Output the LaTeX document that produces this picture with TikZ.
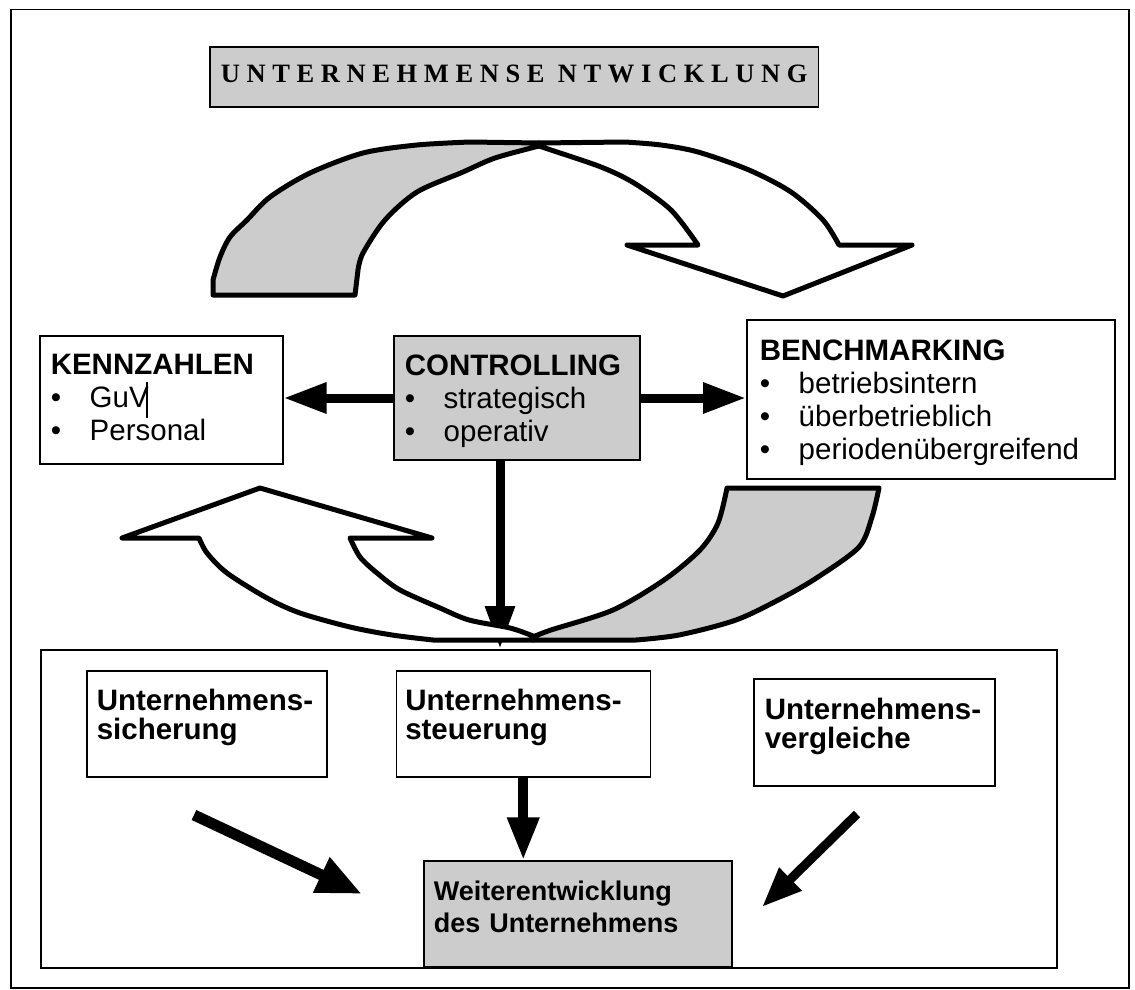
\documentclass[tikz,border=0pt]{standalone}
\usepackage{fontspec}
\setmainfont{Liberation Sans}
\newfontfamily\titlefont{Liberation Serif}
\usepackage{tikz}
\usetikzlibrary{arrows.meta,calc,positioning}
\definecolor{panelgray}{HTML}{CCCCCC}
\newcommand{\midfont}{\fontsize{29.5}{33}\selectfont}
\newcommand{\lowfont}{\fontsize{29.5}{29}\selectfont}
\newcommand{\resfont}{\fontsize{27}{32}\selectfont}
\newcommand{\bitem}{\makebox[39pt][l]{\textbullet}}
\tikzset{
  box/.style={draw, line width=1.5pt, fill=white, anchor=base west, inner ysep=0pt, align=left, font=\midfont},
  gbox/.style={box, fill=panelgray},
  fatarrow/.style={-{Triangle[length=43pt,width=29pt]}, line width=9pt},
  band/.style={draw, line width=5pt, line join=round, line cap=round},
}
\begin{document}
\begin{tikzpicture}[x=1pt, y=-1pt]
    \useasboundingbox (0,0) rectangle (1135,990);
    \node[draw, line width=1.5pt, anchor=north west, inner sep=0pt, minimum width=1118pt, minimum height=978pt] (page) at (10,9) {};

    % title
    \node[gbox, font=\titlefont\fontsize{26.5}{30}\selectfont\bfseries, inner xsep=11pt, text height=35pt, text depth=25pt] (title) at (209,82)
    {U N T E R N E H M E N S E\ \ N T W I C K L U N G};

    % upper turning arrow
    \filldraw[band, fill=panelgray] (213,295) -- plot[smooth] coordinates {(213,280) (220,257) (230,237) (247,220) (270,197) (310,173) (363,153) (417,145) (470,142)}
      -- (539,143) -- plot[smooth] coordinates {(539,146) (495,158) (463,172) (417,192) (385,220) (363,253) (358,270)} -- (355,295) -- cycle;
    \filldraw[band, fill=white] (539,143) -- (625,142) -- plot[smooth] coordinates {(625,142) (661,145) (698,152) (749,170) (791,192) (823,220) (839,245)}
      -- (912,245) -- (783,296) -- (627,245) -- (698,245) -- plot[smooth] coordinates {(698,245) (671,210) (634,183) (601,167) (551,150) (539,146)} -- cycle;

    % middle row
    \node[box, text width=221pt, inner xsep=11pt, text height=38pt, text depth=90pt] (kenn) at (39,374)
    {\textbf{KENNZAHLEN}\\ \bitem GuV\\ \bitem Personal};
    \node[gbox, text width=224pt, inner xsep=11pt, text height=39pt, text depth=85pt] (ctrl) at (393,375)
    {\textbf{CONTROLLING}\\ \bitem strategisch\\ \bitem operativ};
    \node[box, text width=342pt, inner xsep=13pt, text height=40pt, text depth=119pt] (bench) at (746,360)
    {\textbf{BENCHMARKING}\\ \bitem betriebsintern\\ \bitem überbetrieblich\\ \bitem periodenübergreifend};
    \draw[line width=2.5pt] (147,382) -- (147,418);

    \draw[fatarrow] (ctrl.west) -- (ctrl.west -| kenn.east);
    \draw[fatarrow] (ctrl.east) -- (ctrl.east -| bench.west);

    \coordinate (hit) at (500,649);
    \draw[fatarrow, -{Triangle[length=43pt,width=28pt]}] (ctrl.south -| hit) -- (hit);

    % lower turning arrow
    \filldraw[band, fill=white] (199,538) -- (122,538) -- (260,488) -- (432,538) -- (350,538)
      -- plot[smooth] coordinates {(350,538) (360,557) (377,573) (400,590) (440,608) (469,620) (510,628) (533,636)}
      -- (533,640) -- (433,640) -- plot[smooth] coordinates {(433,640) (392,635) (350,627) (300,613) (267,598) (227,573) (207,553) (199,538)} -- cycle;
    \filldraw[band, fill=panelgray] (727,488) -- (879,488) -- plot[smooth] coordinates {(879,488) (872,517) (859,547) (818,577) (782,598) (736,620) (679,635) (636,640)}
      -- (533,640) -- plot[smooth] coordinates {(533,637) (551,630) (613,610) (664,580) (700,550) (718,523) (727,488)} -- cycle;

    % lower panel
    \node[draw, line width=1.5pt, anchor=north west, inner sep=0pt, minimum width=1016pt, minimum height=318pt] (lower) at (40,649) {};
    \node[box, font=\lowfont\bfseries, text width=220pt, inner xsep=10pt, text height=39pt, text depth=67pt] (sich) at (86,710)
    {Unternehmens-\\sicherung};
    \node[box, font=\lowfont\bfseries, text width=236pt, inner xsep=9pt, text height=39pt, text depth=67pt, right=68pt of sich] (steu)
    {Unternehmens-\\steuerung};
    \node[box, font=\lowfont\bfseries, text width=219pt, inner xsep=11pt, text height=40pt, text depth=67pt] (verg) at (753,719)
    {Unternehmens-\\vergleiche};
    \node[gbox, font=\resfont\bfseries, text width=288pt, inner xsep=10pt, text height=39pt, text depth=67pt] (weiter) at (423,900)
    {Weiterentwicklung\\des Unternehmens};

    \draw[fatarrow, -{Triangle[length=43pt,width=30pt]}, line width=10pt] (steu.south) -- (steu.south |- weiter.north);

    \coordinate (sich-tail) at (194,815);
    \coordinate (sich-tip) at (362,894);
    \coordinate (verg-tail) at (857,814);
    \coordinate (verg-tip) at (762,907);
    \draw[-{Triangle[length=45pt,width=36pt]}, line width=11pt] (sich-tail) -- (sich-tip);
    \draw[-{Triangle[length=40pt,width=30pt]}, line width=9pt] (verg-tail) -- (verg-tip);
\end{tikzpicture}
\end{document}
